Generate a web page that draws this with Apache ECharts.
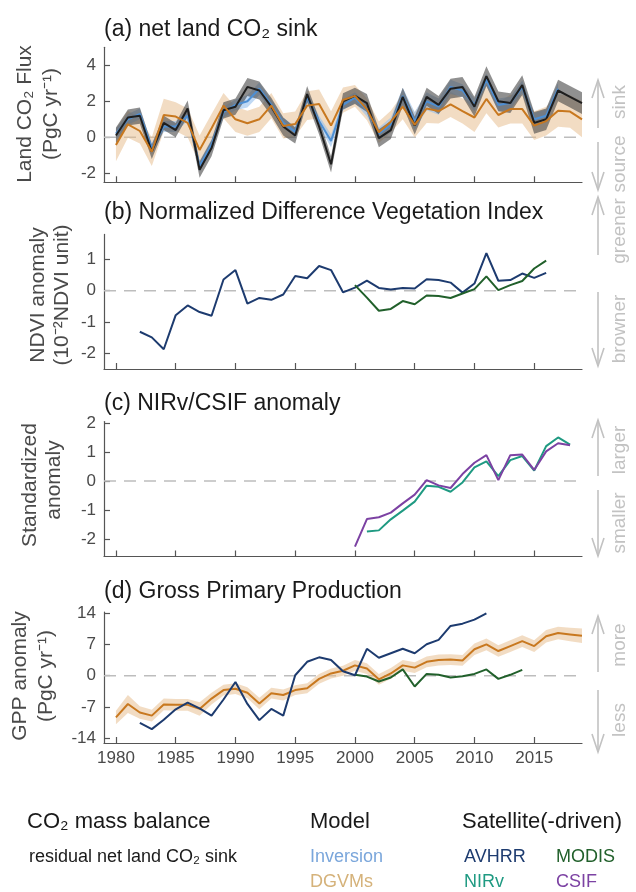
<!DOCTYPE html>
<html><head><meta charset="utf-8">
<script src="https://cdn.jsdelivr.net/npm/echarts@6/dist/echarts.min.js"></script>
<style>html,body{margin:0;padding:0;background:#fff}#c{width:636px;height:892px}</style>
</head><body><div id="c"></div>
<script>
// ---------- data ----------
const xMin = 1979, xMax = 2019;
const yearTicks = [1980, 1985, 1990, 1995, 2000, 2005, 2010, 2015];

// (a) net land CO2 sink, 1980-2019
const residualStart = 1980;
const residualSink = [0.1, 1.1, 1.2, -0.8, 0.8, 0.4, 1.6, -1.8, -0.6, 1.5, 1.7, 2.8, 2.6, 1.7, 0.6, 0.1, 2.4, 0.6, -1.5, 2.0,
  2.3, 1.9, -0.05, 0.4, 2.25, 0.65, 2.25, 1.8, 2.7, 2.8, 1.7, 3.4, 2.0, 1.9, 2.9, 0.8, 1.0, 2.6, 2.25, 1.9];
const residualSpread = [0.45, 0.45, 0.45, 0.4, 0.4, 0.4, 0.45, 0.45, 0.45, 0.45, 0.45, 0.5, 0.5, 0.5, 0.5, 0.45, 0.45, 0.45, 0.45, 0.45,
  0.45, 0.5, 0.5, 0.5, 0.5, 0.5, 0.5, 0.5, 0.55, 0.55, 0.55, 0.55, 0.55, 0.55, 0.55, 0.6, 0.6, 0.6, 0.6, 0.6];
const inversionStart = 1980;
const inversionSink = [0.2, 1.0, 1.3, -0.6, 0.6, 0.6, 1.2, -1.6, -0.4, 1.4, 1.8, 2.0, 2.7, 1.8, 0.8, 0.3, 2.2, 0.9, -0.2, 1.8,
  2.2, 1.5, 0.2, 0.7, 2.3, 0.9, 2.0, 1.7, 2.8, 2.6, 1.8, 3.2, 1.8, 1.9, 2.8, 1.0, 1.2, 2.7];
const inversionSpread = [0.3, 0.3, 0.3, 0.3, 0.3, 0.3, 0.3, 0.3, 0.3, 0.3, 0.3, 0.35, 0.35, 0.3, 0.3, 0.3, 0.3, 0.3, 0.35, 0.3,
  0.3, 0.35, 0.35, 0.4, 0.45, 0.5, 0.5, 0.45, 0.4, 0.35, 0.35, 0.35, 0.35, 0.35, 0.35, 0.35, 0.35, 0.35];
const dgvmStart = 1980;
const dgvmSink = [-0.43, 0.72, 0.35, -0.8, 1.24, 1.15, 0.8, -0.7, 0.5, 1.76, 1.0, 0.78, 1.0, 1.76, 0.63, 0.74, 1.76, 1.85, 0.65, 2.07,
  2.3, 1.55, 0.28, 0.87, 1.7, 0.69, 1.6, 1.46, 1.83, 1.46, 1.1, 2.13, 1.24, 1.57, 1.57, 0.65, 0.9, 1.48, 1.43, 1.0];
const dgvmSinkSpread = [0.9, 0.75, 0.7, 0.8, 0.9, 0.8, 0.8, 0.8, 0.8, 0.7, 0.7, 0.7, 0.7, 0.7, 0.7, 0.7, 0.8, 0.8, 0.8, 0.7,
  0.6, 0.6, 0.6, 0.6, 0.7, 0.7, 0.8, 0.7, 0.7, 0.7, 0.8, 0.8, 0.7, 0.8, 0.8, 0.8, 0.8, 0.9, 0.9, 1.0];

// (b) NDVI anomaly
const avhrrNdviStart = 1982;
const avhrrNdvi = [-1.31, -1.49, -1.87, -0.78, -0.47, -0.68, -0.8, 0.36, 0.66, -0.41, -0.23, -0.29, -0.12, 0.47, 0.4, 0.79, 0.66, -0.05,
  0.1, 0.32, 0.09, 0.04, 0.09, 0.07, 0.37, 0.34, 0.26, -0.06, 0.23, 1.2, 0.32, 0.34, 0.55, 0.41, 0.57];
const modisNdviStart = 2000;
const modisNdvi = [0.18, -0.22, -0.64, -0.58, -0.33, -0.43, -0.15, -0.17, -0.23, -0.09, 0.05, 0.46, 0.02, 0.18, 0.31, 0.71, 0.96];

// (c) NIRv / CSIF standardized anomaly
const csifStart = 2000;
const csifAnom = [-2.26, -1.31, -1.25, -1.09, -0.77, -0.47, 0.03, -0.15, -0.24, 0.24, 0.63, 0.89, 0.03, 0.89, 0.91, 0.38, 1.02, 1.3, 1.23];
const nirvStart = 2001;
const nirvAnom = [-1.74, -1.70, -1.32, -1.02, -0.71, -0.16, -0.2, -0.37, -0.05, 0.47, 0.68, 0.17, 0.72, 0.86, 0.36, 1.2, 1.5, 1.25];

// (d) GPP anomaly
const dgvmGppStart = 1980;
const dgvmGpp = [-9.3, -6.3, -8.2, -8.9, -6.4, -6.5, -6.5, -7.4, -5.1, -3.2, -2.9, -3.8, -6.2, -3.9, -4.3, -3.2, -2.8, -0.7, 0.5, 1.1,
  2.3, 1.6, -0.8, 0.5, 2.3, 1.8, 3.1, 3.5, 3.6, 3.4, 5.9, 7.0, 5.5, 6.6, 7.7, 6.6, 8.8, 9.5, 9.2, 8.9];
const dgvmGppSpread = [1.5, 2.0, 1.4, 1.3, 1.3, 1.3, 1.3, 1.5, 1.3, 1.2, 1.2, 1.2, 1.3, 1.2, 1.2, 1.1, 1.1, 1.1, 1.1, 1.1,
  1.2, 1.2, 1.2, 1.2, 1.2, 1.2, 1.2, 1.2, 1.2, 1.2, 1.3, 1.3, 1.3, 1.3, 1.3, 1.3, 1.4, 1.4, 1.5, 1.6];
const avhrrGppStart = 1982;
const avhrrGpp = [-10.5, -11.9, -9.8, -7.5, -6.0, -7.3, -8.9, -5.3, -1.4, -6.3, -9.9, -7.4, -8.9, 0.1, 3.1, 4.1, 3.5, 1.0,
  0.1, 6.0, 4.0, 5.0, 6.0, 5.0, 7.0, 8.0, 11.1, 11.6, 12.5, 13.9];
const modisGppStart = 2000;
const modisGpp = [0.2, -0.2, -1.3, -0.4, 1.4, -2.4, 0.4, 0.2, -0.4, -0.1, 0.4, 1.4, -0.7, 0.2, 1.3];

// axis settings
const yRanges = [[-2.5, 5], [-2.5, 1.8], [-2.6, 2.05], [-15, 14.2]];
const yTicks = [[-2, 0, 2, 4], [-2, -1, 0, 1], [-2, -1, 0, 1, 2], [-14, -7, 0, 7, 14]];

// ---------- colors ----------
const C = {
  black: '#1e1e1e', gray: 'rgba(70,70,70,0.6)',
  blue: '#4d8fd4', blueBand: 'rgba(150,192,236,0.6)',
  orange: '#c8781f', tan: 'rgba(230,185,135,0.5)',
  avhrr: '#1d3b6f', modis: '#21602b', nirv: '#1f9a82', csif: '#7c42a3',
  axis: '#555555', label: '#4a4a4a', annot: '#c2c2c2'
};
const FONT = '"Liberation Sans", Arial, sans-serif';

// ---------- layout ----------
const grids = [
  { left: 104, top: 47.3, width: 478, height: 135 },
  { left: 104, top: 234.4, width: 478, height: 134.6 },
  { left: 104, top: 421.5, width: 478, height: 135 },
  { left: 104, top: 612, width: 478, height: 131 }
];

function pairs(start, vals) { return vals.map((v, i) => [start + i, v]); }
function line(gi, start, vals, color, z, w) {
  return { type: 'line', xAxisIndex: gi, yAxisIndex: gi, data: pairs(start, vals), symbol: 'none', silent: true,
    lineStyle: { color: color, width: w || 2 }, z: z, animation: false };
}
function band(gi, start, mid, spread, color, z) {
  const data = mid.map((v, i) => [start + i, v - spread[i], v + spread[i]]);
  return {
    type: 'custom', xAxisIndex: gi, yAxisIndex: gi, data: data, encode: { x: 0, y: [1, 2] },
    z: z, silent: true, clip: true, animation: false,
    renderItem: function (params, api) {
      if (params.dataIndex !== 0) return { type: 'group', children: [] };
      const top = data.map(d => api.coord([d[0], d[2]]));
      const bot = data.slice().reverse().map(d => api.coord([d[0], d[1]]));
      return { type: 'polygon', shape: { points: top.concat(bot) }, style: { fill: color, stroke: null } };
    }
  };
}
function zeroLine(gi) {
  return { type: 'line', xAxisIndex: gi, yAxisIndex: gi, data: [[xMin, 0], [xMax, 0]], symbol: 'none', silent: true,
    lineStyle: { color: '#bdbdbd', width: 1.6, type: [12, 8] }, z: 1, animation: false };
}

const xAxes = grids.map((g, i) => ({
  type: 'value', gridIndex: i, min: xMin, max: xMax,
  axisLine: { show: true, onZero: false, lineStyle: { color: C.axis, width: 1.2 } },
  axisTick: { show: true, inside: true, length: 6, customValues: yearTicks, lineStyle: { color: C.axis, width: 1.2 } },
  axisLabel: { show: i === 3, customValues: yearTicks, formatter: v => String(v), fontSize: 17, color: C.label, fontFamily: FONT, margin: 7 },
  splitLine: { show: false }
}));
const yAxes = grids.map((g, i) => ({
  type: 'value', gridIndex: i, min: yRanges[i][0], max: yRanges[i][1],
  axisLine: { show: true, lineStyle: { color: C.axis, width: 1.2 } },
  axisTick: { show: true, inside: true, length: 6, customValues: yTicks[i], lineStyle: { color: C.axis, width: 1.2 } },
  axisLabel: { show: true, customValues: yTicks[i], fontSize: 17, color: C.label, fontFamily: FONT, margin: 8 },
  splitLine: { show: false }
}));

const series = [
  zeroLine(0), zeroLine(1), zeroLine(2), zeroLine(3),
  band(0, dgvmStart, dgvmSink, dgvmSinkSpread, C.tan, 2),
  band(0, inversionStart, inversionSink, inversionSpread, C.blueBand, 3),
  band(0, residualStart, residualSink, residualSpread, C.gray, 4),
  line(0, inversionStart, inversionSink, C.blue, 5),
  line(0, residualStart, residualSink, C.black, 6),
  line(0, dgvmStart, dgvmSink, C.orange, 7),
  line(1, avhrrNdviStart, avhrrNdvi, C.avhrr, 5),
  line(1, modisNdviStart, modisNdvi, C.modis, 6),
  line(2, nirvStart, nirvAnom, C.nirv, 5),
  line(2, csifStart, csifAnom, C.csif, 6),
  band(3, dgvmGppStart, dgvmGpp, dgvmGppSpread, C.tan, 2),
  line(3, dgvmGppStart, dgvmGpp, C.orange, 5),
  line(3, modisGppStart, modisGpp, C.modis, 6),
  line(3, avhrrGppStart, avhrrGpp, C.avhrr, 7)
];

// ---------- text graphics ----------
function txt(x, y, text, size, color, opts) {
  opts = opts || {};
  return { type: 'text', x: x, y: y, rotation: opts.rot || 0, silent: true,
    style: { text: text, fill: color, font: size + 'px ' + FONT,
      textAlign: opts.align || 'left', align: opts.align || 'left',
      textVerticalAlign: 'middle', verticalAlign: 'middle' } };
}
function vtxt(x, y, text, size, color) { return txt(x, y, text, size, color, { rot: Math.PI / 2, align: 'center' }); }
function arrow(x, yTail, yHead) {
  const dir = yHead < yTail ? 1 : -1;
  return [
    { type: 'line', silent: true, shape: { x1: x, y1: yTail, x2: x, y2: yHead }, style: { stroke: C.annot, lineWidth: 1.6 } },
    { type: 'polyline', silent: true, shape: { points: [[x - 6, yHead + dir * 18], [x, yHead], [x + 6, yHead + dir * 18]] },
      style: { stroke: C.annot, lineWidth: 1.6, fill: null } }
  ];
}
const titleColor = '#1a1a1a';
const graphics = [
  txt(104, 30, '(a) net land CO₂ sink', 23, titleColor),
  txt(104, 213, '(b) Normalized Difference Vegetation Index', 23, titleColor),
  txt(104, 404, '(c) NIRv/CSIF anomaly', 23, titleColor),
  txt(104, 592, '(d) Gross Primary Production', 23, titleColor),
  vtxt(25, 114, 'Land CO₂ Flux', 21, C.label),
  vtxt(51, 114, '(PgC yr⁻¹)', 21, C.label),
  vtxt(38, 295, 'NDVI anomaly', 21, C.label),
  vtxt(62, 295, '(10⁻²NDVI unit)', 21, C.label),
  vtxt(30, 485, 'Standardized', 21, C.label),
  vtxt(54, 480, 'anomaly', 21, C.label),
  vtxt(20, 676, 'GPP anomaly', 21, C.label),
  vtxt(46, 676, '(PgC yr⁻¹)', 21, C.label),
  // right annotations
  vtxt(620, 102, 'sink', 19, C.annot), ...arrow(598, 128, 80),
  vtxt(620, 164, 'source', 19, C.annot), ...arrow(598, 142, 190),
  vtxt(620, 231, 'greener', 19, C.annot), ...arrow(598, 255, 197),
  vtxt(620, 329, 'browner', 19, C.annot), ...arrow(598, 292, 366),
  vtxt(620, 450, 'larger', 19, C.annot), ...arrow(598, 476, 420),
  vtxt(620, 523, 'smaller', 19, C.annot), ...arrow(598, 490, 556),
  vtxt(620, 645, 'more', 19, C.annot), ...arrow(598, 672, 616),
  vtxt(620, 720, 'less', 19, C.annot), ...arrow(598, 690, 752),
  // legend
  txt(27, 822, 'CO₂ mass balance', 22, titleColor),
  txt(29, 857, 'residual net land CO₂ sink', 18, titleColor),
  txt(310, 822, 'Model', 22, titleColor),
  txt(310, 857, 'Inversion', 18, '#7aa6db'),
  txt(310, 882, 'DGVMs', 18, '#d5b27a'),
  txt(462, 822, 'Satellite(-driven)', 22, titleColor),
  txt(464, 857, 'AVHRR', 18, C.avhrr),
  txt(556, 857, 'MODIS', 18, C.modis),
  txt(464, 882, 'NIRv', 18, C.nirv),
  txt(556, 882, 'CSIF', 18, C.csif)
];

const chart = echarts.init(document.getElementById('c'), null, { renderer: 'canvas' });
chart.setOption({
  animation: false,
  backgroundColor: '#ffffff',
  grid: grids,
  xAxis: xAxes,
  yAxis: yAxes,
  series: series,
  graphic: graphics
});
</script>
</body></html>
